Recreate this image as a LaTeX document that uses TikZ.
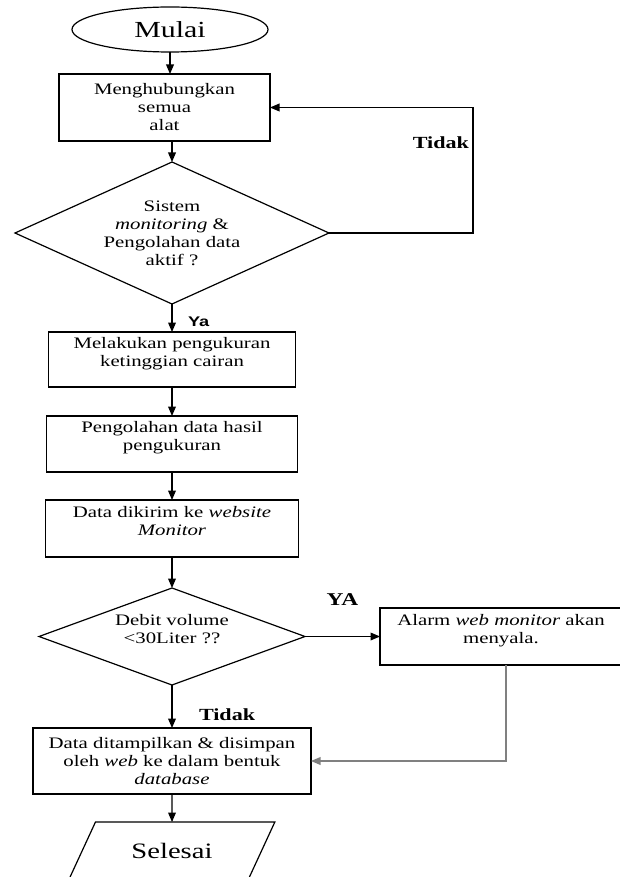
\documentclass[tikz,border=0pt]{standalone}
\usepackage{fontspec}
\setmainfont{Liberation Serif}[FakeStretch=1.3]
\newfontfamily\labelsans{Liberation Sans}[FakeStretch=1.3]
\usepackage{tikz}
\usetikzlibrary{positioning, calc, arrows, shapes}
\tikzset{>=triangle 45}

\begin{document}
\begin{tikzpicture}
    [x=1pt, y=-1pt, line width=1.2pt,
     every node/.style={inner sep=0pt, outer sep=0pt, align=center, font=\fontsize{16}{18}\selectfont},
     box/.style={draw, rectangle},
     upper/.style={text depth=16pt},
     decision/.style={draw, diamond},
     answer/.style={font=\fontsize{17}{20}\selectfont\bfseries}]
    \useasboundingbox (0,0) rectangle (620,877);
    \clip (0,0) rectangle (620,877);

    \node [draw, ellipse, minimum width=196pt, minimum height=45pt, font=\fontsize{23}{26}\selectfont] (root) at (170,29.5) {Mulai};
    \node [box, below=22pt of root, xshift=-5.5pt, minimum width=211pt, minimum height=67pt] (connect) {Menghubungkan\\semua\\alat};
    \node [decision, shape aspect=2.2, below=21pt of connect, xshift=7.5pt, minimum width=314pt, minimum height=142pt] (check) {Sistem\\\textit{monitoring} \&\\Pengolahan data\\aktif ?};

    \node [box, upper, below=28pt of check, minimum width=247pt, minimum height=55pt] (measure) {Melakukan pengukuran\\ketinggian cairan};
    \node [box, upper, below=29pt of measure, minimum width=251pt, minimum height=56pt] (process) {Pengolahan data hasil\\pengukuran};
    \node [box, upper, below=28pt of process, minimum width=253pt, minimum height=57pt] (send) {Data dikirim ke \textit{website}\\\textit{Monitor}};

    \node [decision, upper, shape aspect=2.74, below=31pt of send, minimum width=266pt, minimum height=97pt] (volume) {Debit volume\\<30Liter ??};
    \node [box, upper, right=75pt of volume, minimum width=242pt, minimum height=57pt] (alarm) {Alarm \textit{web monitor} akan\\menyala.};

    \node [box, below=43pt of volume, minimum width=278pt, minimum height=66pt] (save) {Data ditampilkan \& disimpan\\oleh \textit{web} ke dalam bentuk\\\textit{database}};
    \node [draw, trapezium, trapezium left angle=48, trapezium right angle=132, trapezium stretches=true, minimum width=206pt, minimum height=57pt, below=28pt of save, font=\fontsize{22}{25}\selectfont] (stop) {Selesai};

    \draw [->] (root) -- (root |- connect.north);
    \draw [->] (check |- connect.south) -- (check);
    \draw [->] (check) -- (measure) node [midway, right=16pt, yshift=-4pt, font=\labelsans\fontsize{14}{16}\selectfont\bfseries] {Ya};
    \draw [->] (check.east) -- ++(144,0) |- (connect.east) node [pos=0.36, left=4pt, answer] {Tidak};

    \draw [->] (measure) -- (process);
    \draw [->] (process) -- (send);
    \draw [->] (send) -- (volume);

    \draw [->] (volume) -- (alarm) node [midway, yshift=37pt, font=\fontsize{18}{20}\selectfont\bfseries] {YA};
    \draw [->] (volume) -- (save) node [midway, right=27pt, yshift=-8.5pt, answer] {Tidak};
    \draw [->, draw=gray] ([xshift=5pt]alarm.south) |- (save.east);
    \draw [->] (save) -- (stop);
\end{tikzpicture}
\end{document}
